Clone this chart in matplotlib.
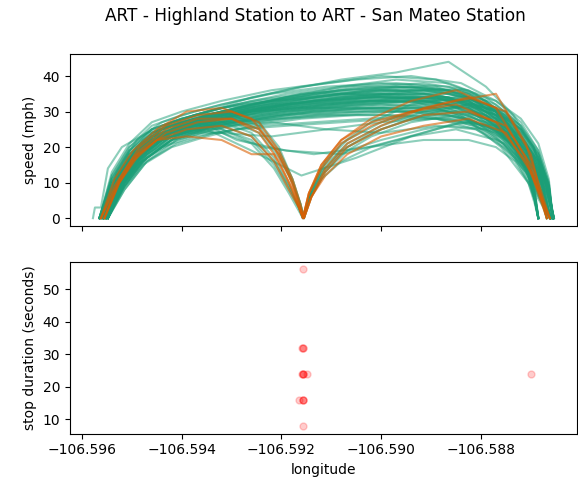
import matplotlib
matplotlib.use("Agg")
from matplotlib import pyplot as plt

# longitude grids for the recorded trips
nonstop_lon_a = [-106.59565, -106.59540, -106.59505, -106.59460, -106.59400, -106.59320, -106.59220, -106.59110,
                 -106.59000, -106.58890, -106.58810, -106.58755, -106.58710, -106.58680, -106.58660]
nonstop_lon_b = [-106.59558, -106.59530, -106.59490, -106.59440, -106.59375, -106.59290, -106.59190, -106.59080,
                 -106.58970, -106.58865, -106.58790, -106.58735, -106.58695, -106.58668, -106.58654]
nonstop_lon_c = [-106.59552, -106.59520, -106.59478, -106.59420, -106.59350, -106.59260, -106.59160, -106.59050,
                 -106.58940, -106.58840, -106.58770, -106.58720, -106.58685, -106.58664, -106.58656]
nonstop_lon_d = [-106.59548, -106.59515, -106.59470, -106.59410, -106.59335, -106.59240, -106.59135, -106.59025,
                 -106.58915, -106.58825, -106.58770, -106.58732, -106.58705, -106.58692, -106.58685]
stop_lon_a = [-106.59562, -106.59535, -106.59498, -106.59450, -106.59390, -106.59320, -106.59260, -106.59215,
              -106.59185, -106.59165, -106.59157, -106.59145, -106.59120, -106.59080, -106.59020, -106.58940,
              -106.58850, -106.58770, -106.58710, -106.58662]
stop_lon_b = [-106.59555, -106.59525, -106.59485, -106.59432, -106.59368, -106.59300, -106.59245, -106.59205,
              -106.59178, -106.59162, -106.59155, -106.59140, -106.59112, -106.59068, -106.59000, -106.58915,
              -106.58825, -106.58750, -106.58700, -106.58668]
early_lon = [-106.59578, -106.59574, -106.59562, -106.59548, -106.59520, -106.59470, -106.59400, -106.59300,
             -106.59180, -106.59060, -106.58940, -106.58840, -106.58760, -106.58700, -106.58662]

# speeds (mph) for each trip
nonstop_speed_a = [
    [0, 9, 17, 23, 26, 29, 31, 33, 34, 33, 29, 24, 17, 9, 0],
    [0, 11, 19, 25, 28, 31, 33, 35, 36, 35, 31, 25, 18, 10, 0],
    [0, 7, 15, 21, 24, 27, 29, 30, 31, 30, 27, 22, 15, 7, 0],
    [0, 12, 20, 26, 29, 32, 35, 37, 38, 37, 33, 27, 19, 10, 0],
    [0, 10, 18, 23, 25, 27, 28, 29, 29, 28, 25, 20, 14, 7, 0],
    [0, 8, 16, 22, 25, 28, 30, 32, 33, 32, 28, 23, 16, 8, 0],
    [0, 13, 21, 27, 30, 33, 36, 38, 40, 39, 35, 28, 20, 11, 0],
    [0, 9, 18, 24, 27, 30, 33, 35, 35, 33, 29, 23, 16, 8, 0],
    [0, 10, 18, 24, 27, 29, 31, 32, 33, 34, 31, 26, 19, 11, 0],
    [0, 8, 16, 21, 24, 26, 27, 25, 24, 26, 25, 21, 15, 8, 0],
    [0, 11, 19, 25, 28, 31, 33, 34, 35, 34, 30, 24, 17, 9, 0],
    [0, 10, 17, 22, 25, 24, 23, 25, 27, 28, 26, 21, 14, 6, 0],
    [0, 12, 20, 25, 28, 30, 32, 34, 36, 36, 33, 28, 20, 12, 0],
    [0, 9, 17, 23, 26, 28, 30, 31, 32, 31, 27, 21, 13, 5, 0],
    [0, 11, 19, 24, 27, 30, 32, 33, 34, 34, 32, 27, 21, 12, 0],
]
nonstop_speed_b = [
    [0, 10, 18, 24, 27, 30, 32, 34, 35, 34, 30, 24, 16, 8, 0],
    [0, 12, 20, 26, 29, 32, 34, 36, 37, 36, 32, 26, 18, 9, 0],
    [0, 8, 16, 22, 25, 28, 30, 31, 32, 31, 28, 23, 16, 8, 0],
    [0, 11, 19, 25, 28, 31, 34, 37, 39, 38, 34, 28, 20, 10, 0],
    [0, 7, 15, 20, 23, 25, 26, 27, 28, 28, 26, 22, 15, 7, 0],
    [0, 13, 22, 27, 30, 33, 36, 39, 41, 44, 37, 29, 20, 10, 0],
    [0, 10, 18, 23, 26, 29, 31, 32, 33, 32, 29, 24, 17, 9, 0],
    [0, 9, 17, 23, 26, 29, 32, 34, 35, 35, 32, 27, 20, 11, 0],
    [0, 11, 19, 24, 27, 30, 33, 35, 36, 34, 29, 22, 14, 6, 0],
    [0, 12, 20, 25, 28, 22, 19, 18, 22, 26, 25, 21, 15, 8, 0],
    [0, 10, 18, 24, 27, 31, 34, 36, 37, 36, 33, 27, 19, 10, 0],
    [0, 9, 17, 22, 25, 27, 29, 30, 30, 29, 26, 21, 14, 7, 0],
    [0, 11, 20, 25, 29, 32, 35, 37, 38, 37, 33, 26, 18, 9, 0],
    [0, 8, 16, 22, 25, 27, 28, 29, 30, 30, 27, 23, 17, 9, 0],
    [0, 10, 19, 25, 28, 31, 33, 35, 34, 32, 28, 22, 15, 7, 0],
]
nonstop_speed_c = [
    [0, 9, 18, 24, 27, 30, 32, 33, 34, 33, 30, 25, 18, 9, 0],
    [0, 11, 19, 25, 29, 32, 35, 36, 37, 36, 32, 26, 18, 9, 0],
    [0, 10, 17, 22, 25, 28, 30, 31, 31, 30, 27, 22, 15, 8, 0],
    [0, 12, 21, 27, 30, 34, 37, 39, 40, 38, 33, 27, 19, 10, 0],
    [0, 8, 16, 22, 25, 27, 29, 30, 31, 31, 28, 23, 16, 8, 0],
    [0, 10, 19, 25, 28, 31, 33, 34, 34, 33, 29, 23, 16, 8, 0],
    [0, 11, 19, 24, 27, 30, 32, 34, 36, 36, 33, 28, 21, 11, 0],
    [0, 9, 16, 22, 25, 19, 12, 17, 23, 27, 26, 22, 16, 8, 0],
    [0, 12, 21, 26, 29, 32, 34, 35, 36, 35, 31, 25, 17, 9, 0],
    [0, 10, 18, 24, 27, 30, 31, 32, 33, 32, 29, 24, 17, 9, 0],
    [0, 11, 20, 25, 28, 30, 31, 31, 30, 28, 25, 20, 14, 7, 0],
    [0, 13, 22, 27, 30, 33, 35, 37, 37, 35, 30, 23, 15, 7, 0],
    [0, 9, 17, 23, 26, 29, 31, 33, 34, 34, 31, 26, 19, 10, 0],
    [0, 10, 18, 23, 26, 28, 30, 32, 33, 33, 30, 25, 18, 9, 0],
    [0, 8, 15, 20, 23, 26, 28, 29, 29, 27, 24, 19, 12, 6, 0],
]
nonstop_speed_d = [
    [0, 10, 18, 24, 27, 30, 32, 33, 33, 31, 26, 20, 13, 6, 0],
    [0, 11, 19, 25, 28, 31, 34, 36, 36, 34, 29, 22, 14, 7, 0],
    [0, 9, 17, 22, 25, 27, 29, 30, 30, 28, 24, 18, 11, 5, 0],
    [0, 12, 20, 26, 29, 32, 34, 36, 37, 35, 30, 23, 15, 7, 0],
    [0, 8, 16, 21, 24, 26, 27, 28, 29, 27, 23, 17, 10, 4, 0],
    [0, 10, 19, 25, 28, 31, 33, 34, 35, 33, 28, 21, 13, 6, 0],
    [0, 11, 20, 26, 29, 32, 35, 37, 38, 36, 31, 24, 16, 8, 0],
    [0, 9, 17, 23, 26, 20, 18, 20, 22, 22, 20, 16, 10, 5, 0],
    [0, 12, 21, 26, 29, 31, 33, 34, 34, 32, 27, 20, 12, 5, 0],
    [0, 10, 18, 24, 27, 29, 31, 32, 33, 31, 26, 19, 12, 5, 0],
    [0, 9, 18, 23, 26, 29, 31, 33, 34, 33, 28, 21, 13, 6, 0],
    [0, 11, 19, 24, 27, 30, 32, 34, 36, 34, 29, 22, 14, 6, 0],
    [0, 10, 17, 23, 26, 28, 30, 31, 32, 31, 27, 21, 13, 6, 0],
    [0, 12, 20, 25, 28, 31, 33, 35, 35, 33, 28, 21, 13, 6, 0],
    [0, 8, 16, 22, 25, 28, 30, 31, 31, 29, 25, 19, 12, 5, 0],
]
early_speed = [0, 3, 3, 14, 20, 24, 27, 30, 32, 33, 33, 29, 20, 9, 0]

green_stop_speed = [
    [0, 9, 17, 23, 26, 27, 24, 17, 9, 3, 0, 6, 13, 19, 24, 28, 30, 26, 15, 0],
    [0, 11, 19, 25, 28, 28, 25, 18, 10, 4, 0, 7, 15, 21, 26, 30, 32, 28, 17, 0],
    [0, 8, 16, 22, 25, 25, 22, 15, 8, 3, 0, 5, 12, 18, 23, 27, 29, 25, 14, 0],
    [0, 10, 18, 24, 27, 29, 26, 19, 11, 4, 0, 8, 16, 22, 27, 31, 33, 29, 18, 0],
    [0, 9, 17, 22, 24, 24, 21, 14, 7, 2, 0, 5, 11, 16, 20, 23, 25, 22, 13, 0],
    [0, 12, 20, 26, 29, 30, 27, 20, 11, 4, 0, 7, 14, 20, 25, 29, 32, 30, 19, 0],
    [0, 10, 18, 23, 26, 26, 23, 16, 9, 3, 0, 6, 14, 21, 27, 32, 34, 30, 18, 0],
    [0, 11, 19, 24, 27, 27, 24, 17, 10, 3, 0, 6, 13, 19, 22, 25, 27, 24, 14, 0],
]
orange_stop_speed = [
    [0, 10, 18, 24, 27, 28, 25, 18, 10, 3, 0, 6, 14, 21, 26, 31, 34, 30, 18, 0],
    [0, 9, 17, 22, 23, 22, 18, 18, 10, 3, 0, 7, 15, 22, 28, 33, 36, 31, 17, 0],
    [0, 11, 20, 26, 29, 30, 27, 19, 11, 4, 0, 6, 12, 18, 23, 26, 28, 24, 13, 0],
    [0, 8, 16, 22, 25, 26, 23, 16, 8, 3, 0, 7, 15, 22, 27, 30, 32, 27, 16, 0],
    [0, 10, 19, 25, 28, 28, 24, 16, 8, 2, 0, 6, 13, 20, 25, 29, 30, 26, 15, 0],
    [0, 11, 19, 25, 30, 31, 28, 20, 12, 4, 0, 7, 14, 21, 26, 30, 33, 35, 21, 0],
]

# stops recorded along the route
stop_lon = [-106.59157, -106.59157, -106.59158, -106.59156, -106.59157, -106.59157, -106.59158,
            -106.59149, -106.59157, -106.59156, -106.59157, -106.59165, -106.59157, -106.59157,
            -106.58700]
stop_dur = [56, 32, 32, 32, 24, 24, 24, 24, 24, 16, 16, 16, 16, 8, 24]

GREEN = "#1b9e77"
ORANGE = "#d95f02"

fig = plt.figure(figsize=(5.78, 4.79), dpi=100)
ax1 = fig.add_axes([0.1211, 0.5282, 0.8767, 0.3591])
ax2 = fig.add_axes([0.1211, 0.0946, 0.8767, 0.3591], sharex=ax1)

for lon, speeds in [(nonstop_lon_a, nonstop_speed_a), (nonstop_lon_b, nonstop_speed_b),
                    (nonstop_lon_c, nonstop_speed_c), (nonstop_lon_d, nonstop_speed_d)]:
    for s in speeds:
        ax1.plot(lon, s, color=GREEN, alpha=0.5, lw=1.5)
ax1.plot(early_lon, early_speed, color=GREEN, alpha=0.5, lw=1.5)
for i, s in enumerate(green_stop_speed):
    ax1.plot(stop_lon_a if i % 2 == 0 else stop_lon_b, s, color=GREEN, alpha=0.5, lw=1.5)
for i, s in enumerate(orange_stop_speed):
    ax1.plot(stop_lon_b if i % 2 == 0 else stop_lon_a, s, color=ORANGE, alpha=0.6, lw=1.5)
ax1.set_ylabel("speed (mph)")
ax1.set_yticks([0, 10, 20, 30, 40])
ax1.tick_params(labelbottom=False)

ax2.scatter(stop_lon, stop_dur, color="red", alpha=0.2, s=25)
ax2.set_ylabel("stop duration (seconds)")
ax2.set_xlabel("longitude")
ax2.set_xticks([-106.596, -106.594, -106.592, -106.590, -106.588])
ax2.ticklabel_format(axis="x", useOffset=False)
ax2.set_xlim(-106.59624, -106.58608)

fig.suptitle("ART - Highland Station to ART - San Mateo Station", x=0.545, y=0.985, fontsize=12.2)

fig.savefig("out.png", dpi=100)
